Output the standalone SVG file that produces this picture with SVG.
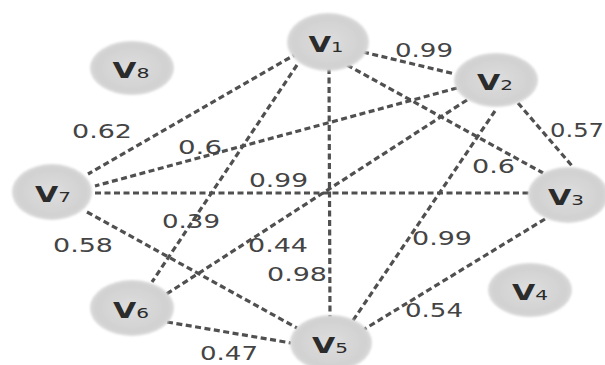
<svg xmlns="http://www.w3.org/2000/svg" width="605" height="365" viewBox="0 0 605 365">
<style>
.e{stroke:#505050;stroke-width:3.2;stroke-dasharray:6 3.5;fill:none}
.n{fill:url(#g);filter:url(#b)}
.t{font-family:"DejaVu Sans",sans-serif;font-weight:bold;font-size:21px;fill:#2b2b2b;text-anchor:middle}
.t tspan.s{font-size:14px;font-weight:normal}
.l{font-family:"DejaVu Sans",sans-serif;font-size:20px;fill:#444}
</style>
<defs>
<radialGradient id="g" cx="50%" cy="50%" r="50%">
<stop offset="0" stop-color="#dedede"/>
<stop offset="0.85" stop-color="#d1d1d1"/>
<stop offset="1" stop-color="#dadada"/>
</radialGradient>
<filter id="b" x="-10%" y="-10%" width="120%" height="120%"><feGaussianBlur stdDeviation="1.2"/></filter>
</defs>
<rect width="605" height="365" fill="#fff"/>
<g id="edges">
<line class="e" x1="363" y1="52" x2="455" y2="74"/>
<line class="e" x1="347" y1="65" x2="543" y2="173"/>
<line class="e" x1="329" y1="68" x2="330" y2="317"/>
<line class="e" x1="297" y1="65" x2="152" y2="282"/>
<line class="e" x1="298" y1="53" x2="88" y2="174"/>
<line class="e" x1="457" y1="88" x2="95" y2="186"/>
<line class="e" x1="467" y1="100" x2="165" y2="295"/>
<line class="e" x1="495" y1="111" x2="352" y2="322"/>
<line class="e" x1="518" y1="103" x2="573" y2="167"/>
<line class="e" x1="95" y1="193" x2="530" y2="193"/>
<line class="e" x1="87" y1="212" x2="297" y2="328"/>
<line class="e" x1="167" y1="322" x2="291" y2="343"/>
<line class="e" x1="545" y1="219" x2="363" y2="330"/>
</g>
<g id="labels">
<text class="l" x="395" y="57" textLength="58" lengthAdjust="spacingAndGlyphs">0.99</text>
<text class="l" x="72" y="138" textLength="60" lengthAdjust="spacingAndGlyphs">0.62</text>
<text class="l" x="178" y="154" textLength="44" lengthAdjust="spacingAndGlyphs">0.6</text>
<text class="l" x="550" y="137" textLength="54" lengthAdjust="spacingAndGlyphs">0.57</text>
<text class="l" x="472" y="173" textLength="43" lengthAdjust="spacingAndGlyphs">0.6</text>
<text class="l" x="249" y="187" textLength="59" lengthAdjust="spacingAndGlyphs">0.99</text>
<text class="l" x="162" y="228" textLength="58" lengthAdjust="spacingAndGlyphs">0.39</text>
<text class="l" x="53" y="252" textLength="60" lengthAdjust="spacingAndGlyphs">0.58</text>
<text class="l" x="248" y="252" textLength="60" lengthAdjust="spacingAndGlyphs">0.44</text>
<text class="l" x="267" y="281" textLength="60" lengthAdjust="spacingAndGlyphs">0.98</text>
<text class="l" x="412" y="245" textLength="60" lengthAdjust="spacingAndGlyphs">0.99</text>
<text class="l" x="405" y="317" textLength="58" lengthAdjust="spacingAndGlyphs">0.54</text>
<text class="l" x="200" y="360" textLength="58" lengthAdjust="spacingAndGlyphs">0.47</text>
</g>
<g id="v1"><ellipse class="n" cx="328" cy="42" rx="41" ry="29"/><text class="t" x="326" y="52" textLength="35" lengthAdjust="spacingAndGlyphs">V<tspan class="s">1</tspan></text></g>
<g id="v2"><ellipse class="n" cx="496" cy="80" rx="42" ry="27"/><text class="t" x="495" y="90" textLength="36" lengthAdjust="spacingAndGlyphs">V<tspan class="s">2</tspan></text></g>
<g id="v3"><ellipse class="n" cx="568" cy="195" rx="40" ry="28"/><text class="t" x="566" y="205" textLength="36" lengthAdjust="spacingAndGlyphs">V<tspan class="s">3</tspan></text></g>
<g id="v4"><ellipse class="n" cx="530" cy="290" rx="42" ry="27"/><text class="t" x="530" y="300" textLength="36" lengthAdjust="spacingAndGlyphs">V<tspan class="s">4</tspan></text></g>
<g id="v5"><ellipse class="n" cx="331" cy="343" rx="41" ry="28"/><text class="t" x="330" y="353" textLength="36" lengthAdjust="spacingAndGlyphs">V<tspan class="s">5</tspan></text></g>
<g id="v6"><ellipse class="n" cx="132" cy="308" rx="42" ry="28"/><text class="t" x="131" y="318" textLength="36" lengthAdjust="spacingAndGlyphs">V<tspan class="s">6</tspan></text></g>
<g id="v7"><ellipse class="n" cx="52" cy="192" rx="40" ry="28"/><text class="t" x="53" y="202" textLength="36" lengthAdjust="spacingAndGlyphs">V<tspan class="s">7</tspan></text></g>
<g id="v8"><ellipse class="n" cx="132" cy="68" rx="42" ry="27"/><text class="t" x="131" y="78" textLength="37" lengthAdjust="spacingAndGlyphs">V<tspan class="s">8</tspan></text></g>
</svg>
